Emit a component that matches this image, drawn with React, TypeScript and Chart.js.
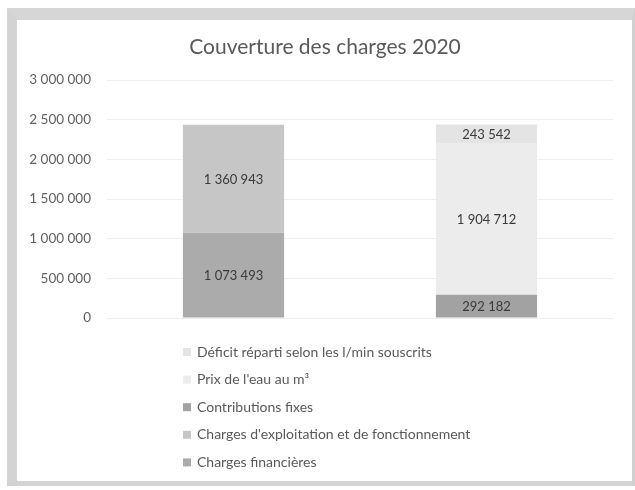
import React, { useEffect, useRef } from 'react';
import { Chart, registerables } from 'chart.js';

Chart.register(...registerables);

const titleText = 'Couverture des charges 2020';
const categories = ['Charges', 'Couverture'];
const seriesNames = [
  'Charges financières',
  "Charges d'exploitation et de fonctionnement",
  'Contributions fixes',
  "Prix de l'eau au m³",
  'Déficit réparti selon les l/min souscrits',
];
const chargesFinancieres = [1073493, null];
const chargesExploitation = [1360943, null];
const contributionsFixes = [null, 292182];
const prixEau = [null, 1904712];
const deficit = [null, 243542];
const yMin = 0;
const yMax = 3000000;
const yStep = 500000;

const seriesColors = ['#ababab', '#c6c6c6', '#a2a2a2', '#ececec', '#e4e4e4'];

const FONT = 'Lato, "Open Sans", sans-serif';

const fmt = (v: number) => String(Math.round(v)).replace(/\B(?=(\d{3})+(?!\d))/g, ' ');

const titlePlugin = {
  id: 'customTitle',
  afterDraw(chart: any) {
    const ctx = chart.ctx;
    ctx.save();
    ctx.font = `21px ${FONT}`;
    ctx.fillStyle = '#595959';
    ctx.textAlign = 'center';
    ctx.textBaseline = 'middle';
    ctx.fillText(titleText, 325, 47);
    ctx.restore();
  },
};

const valueLabelPlugin = {
  id: 'valueLabels',
  afterDatasetsDraw(chart: any) {
    const ctx = chart.ctx;
    ctx.save();
    ctx.font = `13px ${FONT}`;
    ctx.fillStyle = '#3a3a3a';
    ctx.textAlign = 'center';
    ctx.textBaseline = 'middle';
    chart.data.datasets.forEach((ds: any, di: number) => {
      const meta = chart.getDatasetMeta(di);
      meta.data.forEach((el: any, i: number) => {
        const v = ds.data[i];
        if (v === null || v === undefined) return;
        const y = (el.y + el.base) / 2;
        ctx.fillText(fmt(v), el.x, y + 1);
      });
    });
    ctx.restore();
  },
};

const vertLegendPlugin = {
  id: 'vertLegend',
  afterDraw(chart: any) {
    const ctx = chart.ctx;
    const ds = chart.data.datasets.slice().reverse();
    const x0 = 183;
    const y0 = chart.chartArea.bottom + 34;
    const step = 27.6;
    ctx.save();
    ctx.font = `14px ${FONT}`;
    ctx.textBaseline = 'middle';
    ctx.textAlign = 'left';
    ds.forEach((d: any, i: number) => {
      const y = y0 + i * step;
      ctx.fillStyle = d.backgroundColor;
      ctx.fillRect(x0, y - 4, 8, 8);
      ctx.fillStyle = '#595959';
      ctx.fillText(d.label, x0 + 14, y);
    });
    ctx.restore();
  },
};

export default function App() {
  const ref = useRef<HTMLCanvasElement | null>(null);
  useEffect(() => {
    if (!ref.current) return;
    const seriesData = [chargesFinancieres, chargesExploitation, contributionsFixes, prixEau, deficit];
    const chart = new Chart(ref.current, {
      type: 'bar',
      data: {
        labels: categories,
        datasets: seriesData.map((d, i) => ({
          label: seriesNames[i],
          data: d as any,
          backgroundColor: seriesColors[i],
          borderWidth: 0,
          categoryPercentage: 1,
          barPercentage: 0.4,
        })),
      },
      options: {
        responsive: false,
        animation: false,
        layout: { padding: { left: 0, right: 22, top: 80, bottom: 172 } },
        plugins: {
          legend: { display: false },
          tooltip: { enabled: false },
          title: { display: false },
        },
        scales: {
          x: {
            stacked: true,
            display: false,
          },
          y: {
            stacked: true,
            min: yMin,
            max: yMax,
            border: { display: false },
            grid: { color: '#eeeeee', drawTicks: false },
            ticks: {
              stepSize: yStep,
              padding: 16,
              color: '#5f5f5f',
              font: { family: FONT, size: 13.5 },
              callback: (v: any) => fmt(Number(v)),
            },
            afterFit: (scale: any) => {
              scale.width = 107;
            },
          },
        },
      },
      plugins: [titlePlugin, valueLabelPlugin, vertLegendPlugin],
    });
    return () => chart.destroy();
  }, []);

  return (
    <div style={{ position: 'fixed', left: 0, top: 0, width: 635, height: 490, background: '#fff' }}>
      <div
        style={{
          position: 'absolute',
          left: 7,
          top: 8,
          width: 628,
          height: 478,
          boxSizing: 'border-box',
          borderLeft: '10px solid #d3d3d3',
          borderTop: '12px solid #d6d6d6',
          borderRight: '3px solid #d0d0d0',
          borderBottom: '5px solid #d3d3d3',
        }}
      />
      <canvas
        ref={ref}
        width={635}
        height={490}
        style={{ position: 'absolute', left: 0, top: 0, width: 635, height: 490 }}
      />
    </div>
  );
}
